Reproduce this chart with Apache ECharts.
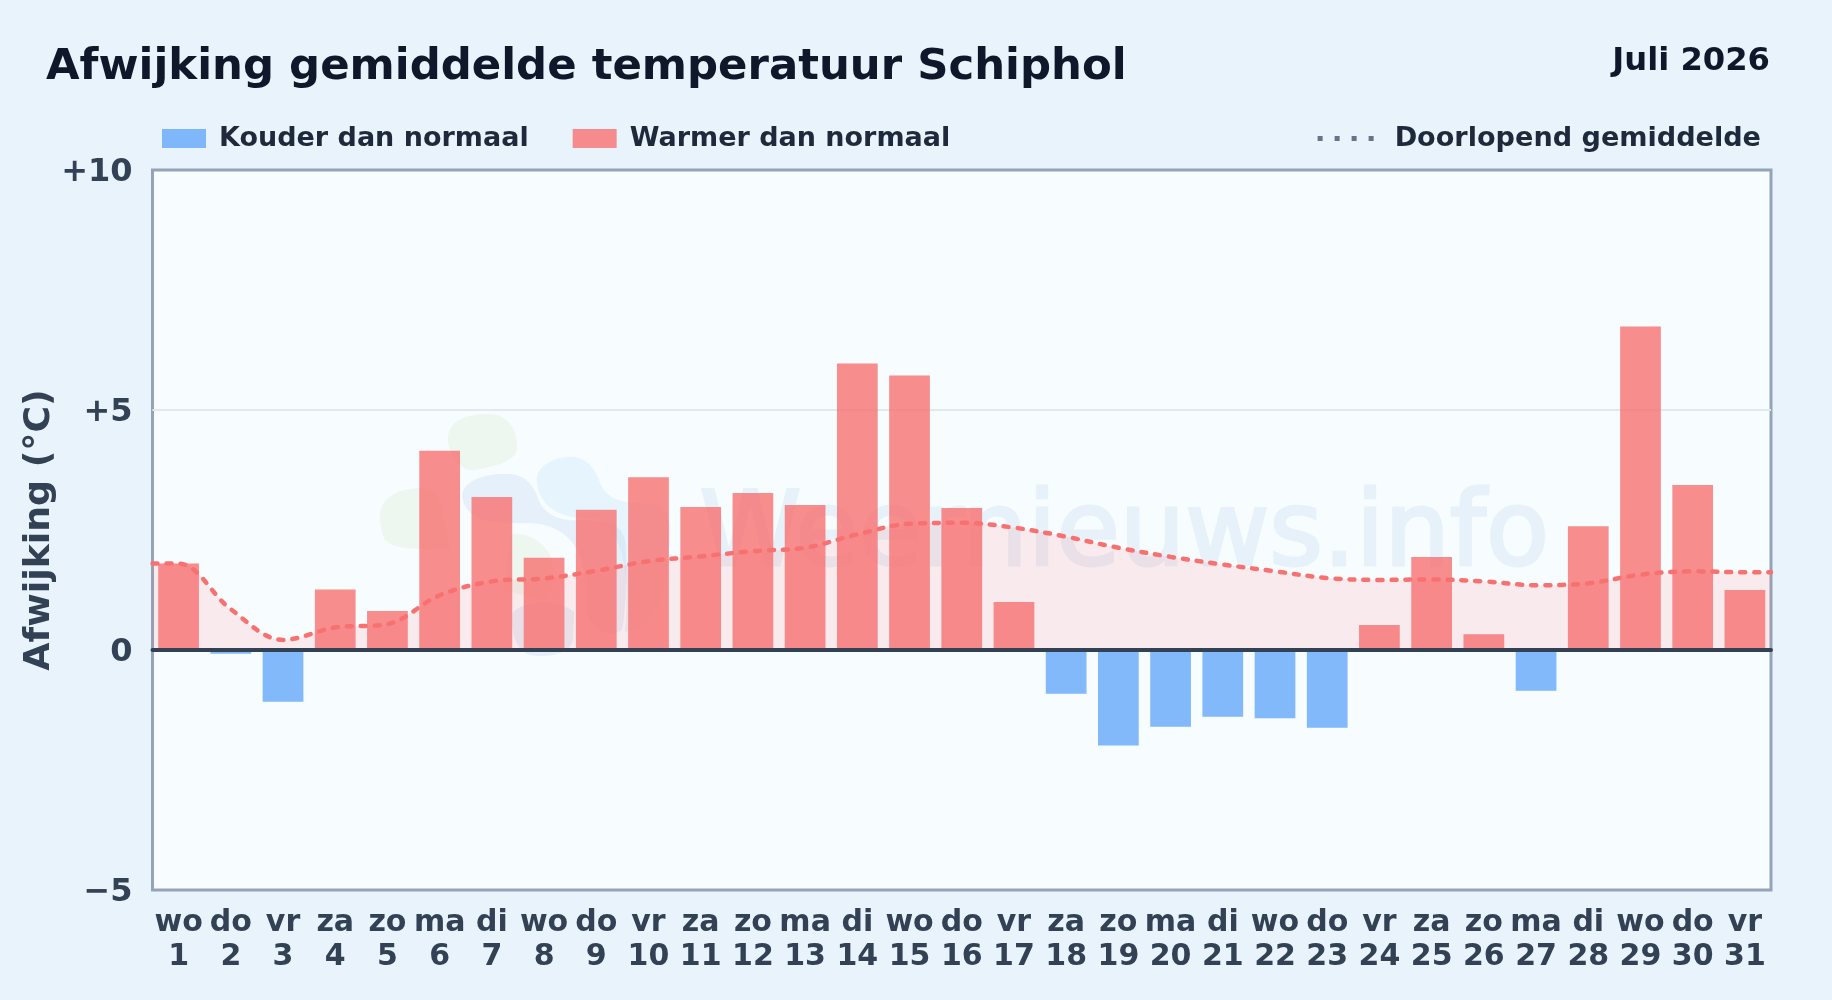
<!DOCTYPE html>
<html><head><meta charset="utf-8">
<script src="https://cdn.jsdelivr.net/npm/echarts@6/dist/echarts.min.js"></script>
<style>html,body{margin:0;padding:0;background:#e8f3fc}#c{width:1832px;height:1000px}</style>
</head><body><div id="c"></div>
<script>
const weekdays = ['wo','do','vr','za','zo','ma','di','wo','do','vr','za','zo','ma','di','wo','do','vr','za','zo','ma','di','wo','do','vr','za','zo','ma','di','wo','do','vr'];
const dayNumbers = [1,2,3,4,5,6,7,8,9,10,11,12,13,14,15,16,17,18,19,20,21,22,23,24,25,26,27,28,29,30,31];
const anomaly = [1.8,-0.08,-1.08,1.26,0.81,4.15,3.19,1.92,2.92,3.6,2.98,3.27,3.02,5.97,5.72,2.96,1.0,-0.91,-1.99,-1.6,-1.39,-1.42,-1.62,0.52,1.94,0.33,-0.85,2.58,6.74,3.44,1.25];
const runningMean = [1.8,0.85,0.21,0.47,0.54,1.14,1.43,1.49,1.65,1.85,1.95,2.06,2.13,2.41,2.63,2.65,2.55,2.36,2.13,1.94,1.78,1.64,1.5,1.46,1.47,1.43,1.35,1.39,1.57,1.64,1.62];
const yTicks = {'10':'+10','5':'+5','0':'0','-5':'\u22125'};
const FONT = '"DejaVu Sans"';
const RED = 'rgba(248,113,113,0.8)', BLUE = 'rgba(96,165,250,0.78)';

const cats = weekdays.map((d,i)=>d+'\n'+dayNumbers[i]);
const warm = anomaly.map(v=>v>=0?v:null);
const cold = anomaly.map(v=>v<0?v:null);
const linePts = [[0.5,runningMean[0]]].concat(runningMean.map((v,i)=>[dayNumbers[i],v]),[[31.5,runningMean[30]]]);
const dotIcon = 'path://M0 0h5v5H0zM17 0h5v5h-5zM34 0h5v5h-5zM51 0h5v5h-5z';

const logoGreen = 'rgba(195,230,170,0.18)', logoSlate = 'rgba(170,200,230,0.22)', logoSky = 'rgba(190,225,250,0.30)';
const logoShapes = [
  ['M448 437C450 418 470 414 490 414C508 415 518 430 517 448C516 462 495 466 475 470C462 473 447 455 448 437Z',logoGreen],
  ['M380 515C382 495 400 488 425 488C440 490 440 500 445 525L450 548C420 550 395 550 385 540C381 530 380 525 380 515Z',logoGreen],
  ['M462 495C464 480 485 473 510 474C530 476 535 490 540 503C548 518 565 522 585 520C610 522 622 525 625 540C628 570 625 620 622 630C605 640 590 625 585 610C590 560 575 525 530 523C500 523 465 525 462 495Z',logoSlate],
  ['M537 482C535 465 555 457 572 457C590 458 596 472 602 487C612 505 635 502 655 505C672 508 672 530 668 555C664 590 660 625 625 632C630 580 625 530 595 518C565 520 540 510 537 482Z',logoSky],
  ['M510 534C530 532 550 545 553 565C555 585 548 600 540 600L505 590Z',logoGreen],
  ['M513 612C525 600 560 600 574 612L573 640C570 655 545 658 530 655C515 650 510 630 513 610Z',logoSlate]
];
logoShapes.forEach((s,i)=>echarts.graphic.registerShape('logo'+i,echarts.graphic.extendPath(s[0])));

const chart = echarts.init(document.getElementById('c'),null,{renderer:'canvas'});
chart.setOption({
  animation:false,
  backgroundColor:'#e8f3fc',
  textStyle:{fontFamily:FONT},
  title:[
    {text:'Afwijking gemiddelde temperatuur Schiphol',left:46,top:46,padding:0,textStyle:{fontFamily:FONT,fontWeight:'bold',fontSize:43.4,color:'#0f172a'}},
    {text:'Juli 2026',right:62,top:46,padding:0,textStyle:{fontFamily:FONT,fontWeight:'bold',fontSize:32.2,color:'#0f172a'}}
  ],
  legend:[
    {left:162,top:125,padding:0,itemWidth:44,itemHeight:19,itemGap:44,icon:'rect',
     textStyle:{fontFamily:FONT,fontWeight:'bold',fontSize:27,color:'#1e293b',padding:[0,0,0,8]},
     data:['Kouder dan normaal','Warmer dan normaal']},
    {right:71,top:125,padding:0,itemWidth:56,itemHeight:5,
     textStyle:{fontFamily:FONT,fontWeight:'bold',fontSize:27.1,color:'#1e293b',padding:[0,0,0,16]},
     data:[{name:'Doorlopend gemiddelde',icon:dotIcon,itemStyle:{color:'#64748b',opacity:1}}]}
  ],
  grid:{left:152.5,right:61,top:170,bottom:110,containLabel:false,show:true,backgroundColor:'#f7fcff',borderColor:'#94a3b8',borderWidth:3},
  xAxis:[
    {type:'category',data:cats,z:5,boundaryGap:true,
     axisLine:{show:true,onZero:true,lineStyle:{color:'#334155',width:4}},
     axisTick:{show:false},splitLine:{show:false},
     axisLabel:{interval:0,margin:16,color:'#334155',fontFamily:FONT,fontWeight:'bold',fontSize:30,lineHeight:34}},
    {type:'value',min:0.5,max:31.5,show:false}
  ],
  yAxis:{type:'value',min:-5,max:10,interval:5,
    name:'Afwijking (\u00b0C)',nameLocation:'middle',nameGap:95,nameRotate:90,nameMoveOverlap:false,
    nameTextStyle:{fontFamily:FONT,fontWeight:'bold',fontSize:36.3,color:'#334155'},
    axisLine:{show:false},axisTick:{show:false},
    splitLine:{show:true,showMinLine:false,showMaxLine:false,lineStyle:{color:'#e2e8f0',width:2}},
    axisLabel:{margin:20,formatter:v=>'{t|'+yTicks[String(v)]+'}',
      rich:{t:{padding:[5,0,0,0],color:'#334155',fontFamily:FONT,fontWeight:'bold',fontSize:32}}}},
  graphic:logoShapes.map((s,i)=>({type:'logo'+i,z:1,silent:true,style:{fill:s[1]}})).concat([
    {type:'text',z:1,silent:true,left:698,top:485,style:{text:'Weernieuws.info',fontFamily:FONT,fontSize:103,fill:'#e7f1fa',stroke:'#e7f1fa',lineWidth:3}}
  ]),
  series:[
    {name:'area',type:'line',xAxisIndex:1,z:1.5,data:linePts,smooth:0.35,symbol:'none',
     lineStyle:{width:0},areaStyle:{color:'rgba(255,100,100,0.16)',origin:0}},
    {name:'Kouder dan normaal',type:'bar',data:cold,barWidth:'78%',barGap:'-100%',z:2,itemStyle:{color:BLUE}},
    {name:'Warmer dan normaal',type:'bar',data:warm,barWidth:'78%',barGap:'-100%',z:2,itemStyle:{color:RED}},
    {name:'Doorlopend gemiddelde',type:'line',xAxisIndex:1,z:3,data:linePts,smooth:0.35,symbol:'none',
     lineStyle:{color:'#f87171',width:4.5,type:[5,9],cap:'round'}}
  ]
});
</script></body></html>
